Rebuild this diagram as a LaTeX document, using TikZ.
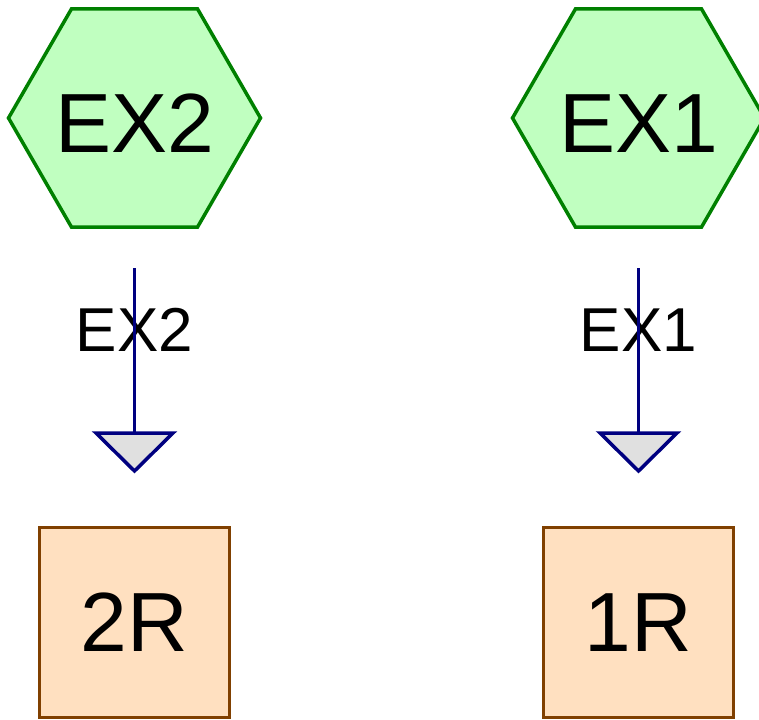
\documentclass[tikz,border=0pt]{standalone}
\usepackage{fontspec}
\setmainfont{Liberation Sans}
\usetikzlibrary{shapes.geometric}
\definecolor{hexfill}{HTML}{C0FFC0}
\definecolor{hexline}{HTML}{008000}
\definecolor{wire}{HTML}{000080}
\definecolor{trifill}{HTML}{E0E0E0}
\definecolor{boxfill}{HTML}{FFE0C0}
\definecolor{boxline}{HTML}{804000}
\newcommand{\hextext}[1]{\makebox[0pt]{\raisebox{-35pt}[0pt][0pt]{#1}}}
\tikzset{
  hexnode/.style={regular polygon,regular polygon sides=6,minimum size=252pt,inner sep=0pt,
    draw=hexline,fill=hexfill,line width=3.5pt,font=\fontsize{84}{84}\selectfont},
  boxnode/.style={rectangle,minimum size=190pt,inner sep=0pt,
    draw=boxline,fill=boxfill,line width=3.5pt,font=\fontsize{84}{84}\selectfont},
  wirelabel/.style={font=\fontsize{62}{62}\selectfont,inner sep=0pt},
  ground/.style={draw=wire,fill=trifill,line width=3.5pt,line join=miter}
}
\begin{document}
\begin{tikzpicture}[x=1pt,y=-1pt]
  \useasboundingbox (0,0) rectangle (759,719);
  \clip (0,0) rectangle (759,719);
  \foreach \x/\n in {134.5/2,638.5/1} % one column per input
  {
    \node[hexnode] (hex\n) at (\x,118) {\hextext{EX\n}};
    \coordinate (top\n) at (\x,268);
    \coordinate (tri\n) at (\x,433);
    \node[wirelabel] (lab\n) at (\x,330) {EX\n};
    \draw[wire,line width=3.5pt] (top\n) -- (tri\n); % wire down to ground
    \draw[ground] (tri\n) -- ++(-38.5,0) -- ++(38.5,38) -- ++(38.5,-38) -- cycle;
    \node[boxnode] (box\n) at (\x,622.5) {\n R};
  }
\end{tikzpicture}
\end{document}
